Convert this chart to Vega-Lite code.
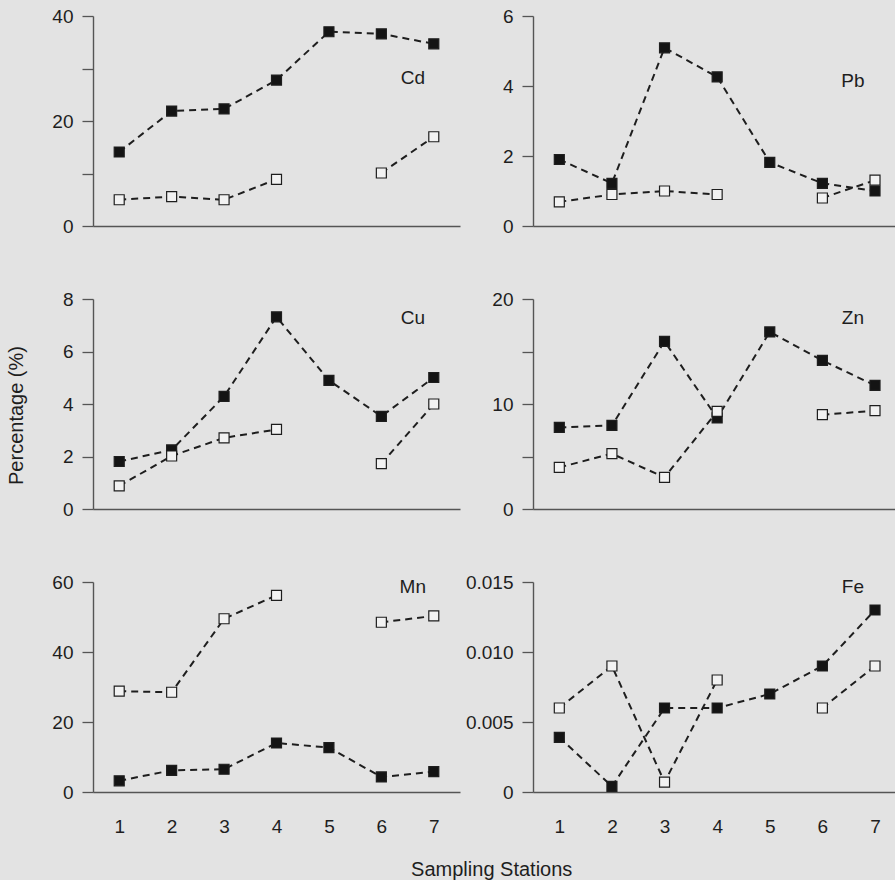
{
  "$schema": "https://vega.github.io/schema/vega-lite/v6.json",
  "background": "#e3e3e3",
  "padding": {"left": 6, "top": 7, "right": 0, "bottom": 0},
  "datasets": {
    "pts": [
      {"el":"Cd","st":1,"s":"filled","g":"f","v":14.1},{"el":"Cd","st":2,"s":"filled","g":"f","v":21.9},{"el":"Cd","st":3,"s":"filled","g":"f","v":22.3},{"el":"Cd","st":4,"s":"filled","g":"f","v":27.8},{"el":"Cd","st":5,"s":"filled","g":"f","v":37.0},{"el":"Cd","st":6,"s":"filled","g":"f","v":36.6},{"el":"Cd","st":7,"s":"filled","g":"f","v":34.7},
      {"el":"Cd","st":1,"s":"open","g":"o1","v":5.0},{"el":"Cd","st":2,"s":"open","g":"o1","v":5.6},{"el":"Cd","st":3,"s":"open","g":"o1","v":5.0},{"el":"Cd","st":4,"s":"open","g":"o1","v":8.9},{"el":"Cd","st":6,"s":"open","g":"o2","v":10.1},{"el":"Cd","st":7,"s":"open","g":"o2","v":17.0},
      {"el":"Pb","st":1,"s":"filled","g":"f","v":1.90},{"el":"Pb","st":2,"s":"filled","g":"f","v":1.22},{"el":"Pb","st":3,"s":"filled","g":"f","v":5.09},{"el":"Pb","st":4,"s":"filled","g":"f","v":4.26},{"el":"Pb","st":5,"s":"filled","g":"f","v":1.82},{"el":"Pb","st":6,"s":"filled","g":"f","v":1.22},{"el":"Pb","st":7,"s":"filled","g":"f","v":1.0},
      {"el":"Pb","st":1,"s":"open","g":"o1","v":0.69},{"el":"Pb","st":2,"s":"open","g":"o1","v":0.90},{"el":"Pb","st":3,"s":"open","g":"o1","v":1.0},{"el":"Pb","st":4,"s":"open","g":"o1","v":0.9},{"el":"Pb","st":6,"s":"open","g":"o2","v":0.8},{"el":"Pb","st":7,"s":"open","g":"o2","v":1.31},
      {"el":"Cu","st":1,"s":"filled","g":"f","v":1.81},{"el":"Cu","st":2,"s":"filled","g":"f","v":2.25},{"el":"Cu","st":3,"s":"filled","g":"f","v":4.29},{"el":"Cu","st":4,"s":"filled","g":"f","v":7.32},{"el":"Cu","st":5,"s":"filled","g":"f","v":4.90},{"el":"Cu","st":6,"s":"filled","g":"f","v":3.53},{"el":"Cu","st":7,"s":"filled","g":"f","v":5.01},
      {"el":"Cu","st":1,"s":"open","g":"o1","v":0.88},{"el":"Cu","st":2,"s":"open","g":"o1","v":2.02},{"el":"Cu","st":3,"s":"open","g":"o1","v":2.71},{"el":"Cu","st":4,"s":"open","g":"o1","v":3.03},{"el":"Cu","st":6,"s":"open","g":"o2","v":1.73},{"el":"Cu","st":7,"s":"open","g":"o2","v":4.0},
      {"el":"Zn","st":1,"s":"filled","g":"f","v":7.77},{"el":"Zn","st":2,"s":"filled","g":"f","v":7.96},{"el":"Zn","st":3,"s":"filled","g":"f","v":15.96},{"el":"Zn","st":4,"s":"filled","g":"f","v":8.67},{"el":"Zn","st":5,"s":"filled","g":"f","v":16.86},{"el":"Zn","st":6,"s":"filled","g":"f","v":14.15},{"el":"Zn","st":7,"s":"filled","g":"f","v":11.77},
      {"el":"Zn","st":1,"s":"open","g":"o1","v":3.96},{"el":"Zn","st":2,"s":"open","g":"o1","v":5.27},{"el":"Zn","st":3,"s":"open","g":"o1","v":3.01},{"el":"Zn","st":4,"s":"open","g":"o1","v":9.30},{"el":"Zn","st":6,"s":"open","g":"o2","v":8.98},{"el":"Zn","st":7,"s":"open","g":"o2","v":9.36},
      {"el":"Mn","st":1,"s":"filled","g":"f","v":3.2},{"el":"Mn","st":2,"s":"filled","g":"f","v":6.2},{"el":"Mn","st":3,"s":"filled","g":"f","v":6.5},{"el":"Mn","st":4,"s":"filled","g":"f","v":14.0},{"el":"Mn","st":5,"s":"filled","g":"f","v":12.7},{"el":"Mn","st":6,"s":"filled","g":"f","v":4.3},{"el":"Mn","st":7,"s":"filled","g":"f","v":5.8},
      {"el":"Mn","st":1,"s":"open","g":"o1","v":28.8},{"el":"Mn","st":2,"s":"open","g":"o1","v":28.5},{"el":"Mn","st":3,"s":"open","g":"o1","v":49.5},{"el":"Mn","st":4,"s":"open","g":"o1","v":56.2},{"el":"Mn","st":6,"s":"open","g":"o2","v":48.5},{"el":"Mn","st":7,"s":"open","g":"o2","v":50.3},
      {"el":"Fe","st":1,"s":"filled","g":"f","v":0.0039},{"el":"Fe","st":2,"s":"filled","g":"f","v":0.0004},{"el":"Fe","st":3,"s":"filled","g":"f","v":0.006},{"el":"Fe","st":4,"s":"filled","g":"f","v":0.006},{"el":"Fe","st":5,"s":"filled","g":"f","v":0.007},{"el":"Fe","st":6,"s":"filled","g":"f","v":0.009},{"el":"Fe","st":7,"s":"filled","g":"f","v":0.013},
      {"el":"Fe","st":1,"s":"open","g":"o1","v":0.006},{"el":"Fe","st":2,"s":"open","g":"o1","v":0.009},{"el":"Fe","st":3,"s":"open","g":"o1","v":0.0007},{"el":"Fe","st":4,"s":"open","g":"o1","v":0.008},{"el":"Fe","st":6,"s":"open","g":"o2","v":0.006},{"el":"Fe","st":7,"s":"open","g":"o2","v":0.009}
    ],
    "lbl": [
      {"el":"Cd","x":6.60,"y":28.2},
      {"el":"Pb","x":6.58,"y":4.15},
      {"el":"Cu","x":6.60,"y":7.27},
      {"el":"Zn","x":6.58,"y":18.2},
      {"el":"Mn","x":6.60,"y":58.6},
      {"el":"Fe","x":6.58,"y":0.01462}
    ]
  },
  "title": {"text": "Sampling Stations", "orient": "bottom", "anchor": "middle", "offset": 24, "dx": 41, "fontSize": 20, "fontWeight": "normal", "font": "Liberation Sans", "color": "#1e1e1e"},
  "columns": 2,
  "bounds": "flush",
  "spacing": {"row": 73, "column": 73},
  "concat": [
    {
      "width": 367, "height": 210,
      "layer": [
        {"data": {"name": "pts"}, "transform": [{"filter": "datum.el == 'Cd'"}],
         "mark": {"type": "line", "strokeDash": [7, 5], "strokeWidth": 2, "color": "#1e1e1e"},
         "encoding": {
           "x": {"field": "st", "type": "quantitative", "scale": {"domain": [0.5, 7.5], "nice": false, "zero": false}, "axis": {"labels": false, "ticks": false, "title": null}},
           "y": {"field": "v", "type": "quantitative", "scale": {"domain": [0, 40], "nice": false}, "axis": {"values": [0, 10, 20, 30, 40], "labelExpr": "datum.value % 20 == 0 ? datum.label : ''", "title": null}},
           "detail": {"field": "g"}}},
        {"data": {"name": "pts"}, "transform": [{"filter": "datum.el == 'Cd'"}],
         "mark": {"type": "point", "shape": "square", "filled": true, "size": 100, "stroke": "#1e1e1e", "strokeWidth": 1.2, "opacity": 1},
         "encoding": {"x": {"field": "st", "type": "quantitative"}, "y": {"field": "v", "type": "quantitative"},
           "fill": {"field": "s", "type": "nominal", "scale": {"domain": ["filled", "open"], "range": ["#141414", "#f2f2f2"]}, "legend": null}}},
        {"data": {"name": "lbl"}, "transform": [{"filter": "datum.el == 'Cd'"}],
         "mark": {"type": "text", "fontSize": 19, "color": "#1e1e1e", "font": "Liberation Sans"},
         "encoding": {"x": {"field": "x", "type": "quantitative"}, "y": {"field": "y", "type": "quantitative"}, "text": {"field": "el"}}}
      ]
    },
    {
      "width": 362, "height": 210,
      "layer": [
        {"data": {"name": "pts"}, "transform": [{"filter": "datum.el == 'Pb'"}],
         "mark": {"type": "line", "strokeDash": [7, 5], "strokeWidth": 2, "color": "#1e1e1e"},
         "encoding": {
           "x": {"field": "st", "type": "quantitative", "scale": {"domain": [0.5, 7.38], "nice": false, "zero": false}, "axis": {"labels": false, "ticks": false, "title": null}},
           "y": {"field": "v", "type": "quantitative", "scale": {"domain": [0, 6], "nice": false}, "axis": {"values": [0, 1, 2, 3, 4, 5, 6], "labelExpr": "datum.value % 2 == 0 ? datum.label : ''", "title": null}},
           "detail": {"field": "g"}}},
        {"data": {"name": "pts"}, "transform": [{"filter": "datum.el == 'Pb'"}],
         "mark": {"type": "point", "shape": "square", "filled": true, "size": 100, "stroke": "#1e1e1e", "strokeWidth": 1.2, "opacity": 1},
         "encoding": {"x": {"field": "st", "type": "quantitative"}, "y": {"field": "v", "type": "quantitative"},
           "fill": {"field": "s", "type": "nominal", "scale": {"domain": ["filled", "open"], "range": ["#141414", "#f2f2f2"]}, "legend": null}}},
        {"data": {"name": "lbl"}, "transform": [{"filter": "datum.el == 'Pb'"}],
         "mark": {"type": "text", "fontSize": 19, "color": "#1e1e1e", "font": "Liberation Sans"},
         "encoding": {"x": {"field": "x", "type": "quantitative"}, "y": {"field": "y", "type": "quantitative"}, "text": {"field": "el"}}}
      ]
    },
    {
      "width": 367, "height": 210,
      "layer": [
        {"data": {"name": "pts"}, "transform": [{"filter": "datum.el == 'Cu'"}],
         "mark": {"type": "line", "strokeDash": [7, 5], "strokeWidth": 2, "color": "#1e1e1e"},
         "encoding": {
           "x": {"field": "st", "type": "quantitative", "scale": {"domain": [0.5, 7.5], "nice": false, "zero": false}, "axis": {"labels": false, "ticks": false, "title": null}},
           "y": {"field": "v", "type": "quantitative", "scale": {"domain": [0, 8], "nice": false}, "axis": {"values": [0, 1, 2, 3, 4, 5, 6, 7, 8], "labelExpr": "datum.value % 2 == 0 ? datum.label : ''", "title": "Percentage (%)", "titlePadding": 36, "titleFontSize": 20, "titleFontWeight": "normal", "titleY": 116}},
           "detail": {"field": "g"}}},
        {"data": {"name": "pts"}, "transform": [{"filter": "datum.el == 'Cu'"}],
         "mark": {"type": "point", "shape": "square", "filled": true, "size": 100, "stroke": "#1e1e1e", "strokeWidth": 1.2, "opacity": 1},
         "encoding": {"x": {"field": "st", "type": "quantitative"}, "y": {"field": "v", "type": "quantitative"},
           "fill": {"field": "s", "type": "nominal", "scale": {"domain": ["filled", "open"], "range": ["#141414", "#f2f2f2"]}, "legend": null}}},
        {"data": {"name": "lbl"}, "transform": [{"filter": "datum.el == 'Cu'"}],
         "mark": {"type": "text", "fontSize": 19, "color": "#1e1e1e", "font": "Liberation Sans"},
         "encoding": {"x": {"field": "x", "type": "quantitative"}, "y": {"field": "y", "type": "quantitative"}, "text": {"field": "el"}}}
      ]
    },
    {
      "width": 362, "height": 210,
      "layer": [
        {"data": {"name": "pts"}, "transform": [{"filter": "datum.el == 'Zn'"}],
         "mark": {"type": "line", "strokeDash": [7, 5], "strokeWidth": 2, "color": "#1e1e1e"},
         "encoding": {
           "x": {"field": "st", "type": "quantitative", "scale": {"domain": [0.5, 7.38], "nice": false, "zero": false}, "axis": {"labels": false, "ticks": false, "title": null}},
           "y": {"field": "v", "type": "quantitative", "scale": {"domain": [0, 20], "nice": false}, "axis": {"values": [0, 5, 10, 15, 20], "labelExpr": "datum.value % 10 == 0 ? datum.label : ''", "title": null}},
           "detail": {"field": "g"}}},
        {"data": {"name": "pts"}, "transform": [{"filter": "datum.el == 'Zn'"}],
         "mark": {"type": "point", "shape": "square", "filled": true, "size": 100, "stroke": "#1e1e1e", "strokeWidth": 1.2, "opacity": 1},
         "encoding": {"x": {"field": "st", "type": "quantitative"}, "y": {"field": "v", "type": "quantitative"},
           "fill": {"field": "s", "type": "nominal", "scale": {"domain": ["filled", "open"], "range": ["#141414", "#f2f2f2"]}, "legend": null}}},
        {"data": {"name": "lbl"}, "transform": [{"filter": "datum.el == 'Zn'"}],
         "mark": {"type": "text", "fontSize": 19, "color": "#1e1e1e", "font": "Liberation Sans"},
         "encoding": {"x": {"field": "x", "type": "quantitative"}, "y": {"field": "y", "type": "quantitative"}, "text": {"field": "el"}}}
      ]
    },
    {
      "width": 367, "height": 210,
      "layer": [
        {"data": {"name": "pts"}, "transform": [{"filter": "datum.el == 'Mn'"}],
         "mark": {"type": "line", "strokeDash": [7, 5], "strokeWidth": 2, "color": "#1e1e1e"},
         "encoding": {
           "x": {"field": "st", "type": "quantitative", "scale": {"domain": [0.5, 7.5], "nice": false, "zero": false}, "axis": {"values": [1, 2, 3, 4, 5, 6, 7], "format": "d", "ticks": false, "labelPadding": 25, "title": null}},
           "y": {"field": "v", "type": "quantitative", "scale": {"domain": [0, 60], "nice": false}, "axis": {"values": [0, 10, 20, 30, 40, 50, 60], "labelExpr": "datum.value % 20 == 0 ? datum.label : ''", "title": null}},
           "detail": {"field": "g"}}},
        {"data": {"name": "pts"}, "transform": [{"filter": "datum.el == 'Mn'"}],
         "mark": {"type": "point", "shape": "square", "filled": true, "size": 100, "stroke": "#1e1e1e", "strokeWidth": 1.2, "opacity": 1},
         "encoding": {"x": {"field": "st", "type": "quantitative"}, "y": {"field": "v", "type": "quantitative"},
           "fill": {"field": "s", "type": "nominal", "scale": {"domain": ["filled", "open"], "range": ["#141414", "#f2f2f2"]}, "legend": null}}},
        {"data": {"name": "lbl"}, "transform": [{"filter": "datum.el == 'Mn'"}],
         "mark": {"type": "text", "fontSize": 19, "color": "#1e1e1e", "font": "Liberation Sans"},
         "encoding": {"x": {"field": "x", "type": "quantitative"}, "y": {"field": "y", "type": "quantitative"}, "text": {"field": "el"}}}
      ]
    },
    {
      "width": 362, "height": 210,
      "layer": [
        {"data": {"name": "pts"}, "transform": [{"filter": "datum.el == 'Fe'"}],
         "mark": {"type": "line", "strokeDash": [7, 5], "strokeWidth": 2, "color": "#1e1e1e"},
         "encoding": {
           "x": {"field": "st", "type": "quantitative", "scale": {"domain": [0.5, 7.38], "nice": false, "zero": false}, "axis": {"values": [1, 2, 3, 4, 5, 6, 7], "format": "d", "ticks": false, "labelPadding": 25, "title": null}},
           "y": {"field": "v", "type": "quantitative", "scale": {"domain": [0, 0.015], "nice": false}, "axis": {"values": [0, 0.005, 0.01, 0.015], "labelExpr": "datum.value == 0 ? '0' : format(datum.value, '.3f')", "title": null}},
           "detail": {"field": "g"}}},
        {"data": {"name": "pts"}, "transform": [{"filter": "datum.el == 'Fe'"}],
         "mark": {"type": "point", "shape": "square", "filled": true, "size": 100, "stroke": "#1e1e1e", "strokeWidth": 1.2, "opacity": 1},
         "encoding": {"x": {"field": "st", "type": "quantitative"}, "y": {"field": "v", "type": "quantitative"},
           "fill": {"field": "s", "type": "nominal", "scale": {"domain": ["filled", "open"], "range": ["#141414", "#f2f2f2"]}, "legend": null}}},
        {"data": {"name": "lbl"}, "transform": [{"filter": "datum.el == 'Fe'"}],
         "mark": {"type": "text", "fontSize": 19, "color": "#1e1e1e", "font": "Liberation Sans"},
         "encoding": {"x": {"field": "x", "type": "quantitative"}, "y": {"field": "y", "type": "quantitative"}, "text": {"field": "el"}}}
      ]
    }
  ],
  "config": {
    "view": {"stroke": null},
    "font": "Liberation Sans",
    "axis": {"grid": false, "labelFont": "Liberation Sans", "labelFontSize": 19, "labelColor": "#1e1e1e", "titleFont": "Liberation Sans", "titleColor": "#1e1e1e", "domainColor": "#555555", "domainWidth": 1.4, "tickColor": "#555555", "tickWidth": 1.3, "tickSize": 11, "labelPadding": 9}
  }
}
